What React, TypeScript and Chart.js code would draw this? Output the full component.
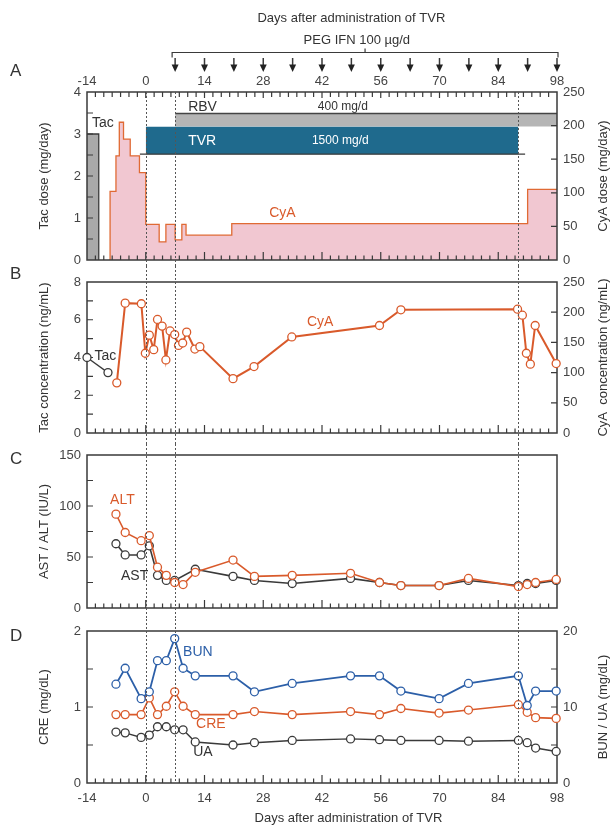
import React, { useEffect, useRef } from 'react';
import { Chart, registerables } from 'chart.js';
Chart.register(...registerables);

// ---------- data ----------
const dayTicks = [-14, 0, 14, 28, 42, 56, 70, 84, 98];
const pegIfnDays = [7, 14, 21, 28, 35, 42, 49, 56, 63, 70, 77, 84, 91, 98];
const phaseLineDays = [0, 7, 88.8];

// Panel A: doses
const tacDoseDays = [-14, -11.2];
const tacDoseValues = [3, 0];
const cyaDoseDays = [-8.5, -8.5, -7.1, -6.3, -5.3, -3.7, -1.5, 0, 3.2, 4.8, 7, 8.6, 9.6, 20.5, 91, 98];
const cyaDoseValues = [0, 102, 155, 205, 180, 155, 130, 53, 27, 53, 30, 53, 37, 54, 105, 105];
const rbvPeriod = [7, 98];
const tvrPeriod = [0, 88.8];

// Panel B: concentrations
const tacConcDays = [-14, -9];
const tacConcValues = [4.0, 3.2];
const cyaConcDays = [-6.9, -4.9, -1.05, -0.1, 0.85, 1.9, 2.8, 3.9, 4.8, 5.8, 6.9, 7.8, 8.8, 9.75, 11.7, 12.9, 20.8, 25.8, 34.8, 55.7, 60.8, 88.6, 89.75, 90.7, 91.65, 92.8, 97.8];
const cyaConcValues = [83, 215, 214, 132, 162, 138, 188, 177, 121, 169, 163, 145, 149, 167, 139, 143, 90, 110, 159, 178, 204, 205, 195, 132, 114, 178, 115];

// Panels C, D: laboratory values
const labDays = [-7.1, -4.9, -1.1, 0.85, 2.8, 4.9, 6.9, 8.9, 11.8, 20.8, 25.9, 34.9, 48.8, 55.7, 60.8, 69.9, 76.9, 88.8, 90.9, 92.9, 97.8];
const astValues = [63, 52, 52, 61, 32, 27, 27, null, 38, 31, 27, 24, 29, 25, 22, 22, 27, 22, 24, 24, 27];
const altValues = [92, 74, 66, 71, 40, 32, 25, 23, 35, 47, 31, 32, 34, 25, 22, 22, 29, 21, 23, 25, 28];
const bunValues = [13.0, 15.1, 11.1, 12.0, 16.1, 16.1, 19.0, 15.1, 14.1, 14.1, 12.0, 13.1, 14.1, 14.1, 12.1, 11.1, 13.1, 14.1, 10.2, 12.1, 12.1];
const creValues = [0.9, 0.9, 0.9, 1.12, 0.9, 1.01, 1.2, 1.01, 0.9, 0.9, 0.94, 0.9, 0.94, 0.9, 0.98, 0.92, 0.96, 1.03, 0.93, 0.86, 0.85];
const uaValues = [6.7, 6.6, 6.0, 6.3, 7.4, 7.4, 7.0, 7.0, 5.4, 5.0, 5.3, 5.6, 5.8, 5.7, 5.6, 5.6, 5.5, 5.6, 5.3, 4.6, 4.15];

// ---------- styles ----------
const FONT = "'Liberation Sans', Arial, Helvetica, sans-serif";
const ORANGE = '#d95a2b';
const BLUE = '#2c5fa8';
const DARK = '#3a3a3a';
const TEXT = '#333';
const W = 613;
const LEFT_W = 87;
const RIGHT_W = 56;

const pts = (xs: number[], ys: (number | null)[]) => xs.map((x, i) => ({ x, y: ys[i] }));

function fixedAxis(size: number) {
  return (s: any) => {
    if (s.isHorizontal()) s.height = size; else s.width = size;
    s.paddingTop = 0; s.paddingBottom = 0; s.paddingLeft = 0; s.paddingRight = 0;
  };
}

function xAxis(position: string, display: boolean, height: number, pad: number) {
  return {
    type: 'linear', min: -14, max: 98, position, display,
    grid: { display: false, drawTicks: false }, border: { display: false },
    afterBuildTicks: (s: any) => { s.ticks = dayTicks.map((v) => ({ value: v })); },
    ticks: { font: { family: FONT, size: 13 }, color: '#444', padding: pad, maxRotation: 0, autoSkip: false },
    afterFit: fixedAxis(height),
  };
}

function yAxis(position: string, min: number, max: number, step: number) {
  return {
    type: 'linear', position, min, max,
    grid: { display: false, drawTicks: false }, border: { display: false },
    ticks: { stepSize: step, font: { family: FONT, size: 13 }, color: '#444', padding: 6 },
    afterFit: fixedAxis(position === 'left' ? LEFT_W : RIGHT_W),
  };
}

function lineSet(data: any[], color: string, axis: string, width = 1.6) {
  return {
    type: 'line', data, yAxisID: axis, borderColor: color, borderWidth: width,
    pointRadius: 4, pointBackgroundColor: '#fff', pointBorderColor: color, pointBorderWidth: 1.3,
    tension: 0, fill: false, spanGaps: true, clip: false,
  };
}

type Label = { text: string; day: number; value: number; axis: string; color: string; size?: number };
type Deco = {
  letter: string; letterY: number;
  leftTitle: string; rightTitle?: string;
  leftTickStep: number; rightTickStep?: number;
  topTicks?: boolean;
  lineFromCanvas: boolean; lineToCanvas: boolean;
  labels: Label[];
  frameFirst?: boolean;
  extra?: (chart: any, ctx: CanvasRenderingContext2D) => void;
};

function decoPlugin(d: Deco) {
  const drawFrame = (chart: any) => {
    const ctx: CanvasRenderingContext2D = chart.ctx;
    const { left, right, top, bottom } = chart.chartArea;
    const xs = chart.scales.x;
    ctx.save();
    ctx.strokeStyle = DARK;
    ctx.lineWidth = 1.5;
    ctx.strokeRect(left, top, right - left, bottom - top);
    ctx.lineWidth = 1.2;
    ctx.beginPath();
    for (let v = -12; v < 98; v += 2) {
      const px = xs.getPixelForValue(v);
      const major = ((v % 14) + 14) % 14 === 0;
      ctx.moveTo(px, bottom); ctx.lineTo(px, bottom - (major ? 8 : 4.5));
      if (d.topTicks) { ctx.moveTo(px, top); ctx.lineTo(px, top + (major ? 6 : 5)); }
    }
    const ys = chart.scales.y;
    for (let v = ys.min + d.leftTickStep; v < ys.max - 1e-9; v += d.leftTickStep) {
      const py = ys.getPixelForValue(v);
      ctx.moveTo(left, py); ctx.lineTo(left + 6, py);
    }
    if (d.rightTickStep && chart.scales.y1) {
      const y1 = chart.scales.y1;
      for (let v = y1.min + d.rightTickStep; v < y1.max - 1e-9; v += d.rightTickStep) {
        const py = y1.getPixelForValue(v);
        ctx.moveTo(right, py); ctx.lineTo(right - 6, py);
      }
    }
    ctx.stroke();
    ctx.restore();
  };
  const drawRest = (chart: any) => {
    const ctx: CanvasRenderingContext2D = chart.ctx;
    const { top, bottom } = chart.chartArea;
    const xs = chart.scales.x;
    ctx.save();
    // dashed phase lines
    ctx.strokeStyle = '#555';
    ctx.lineWidth = 1;
    ctx.setLineDash([2, 2]);
    ctx.beginPath();
    for (const day of phaseLineDays) {
      const px = Math.round(xs.getPixelForValue(day)) + 0.5;
      ctx.moveTo(px, d.lineFromCanvas ? 0 : top);
      ctx.lineTo(px, d.lineToCanvas ? chart.height : bottom);
    }
    ctx.stroke();
    ctx.setLineDash([]);
    // labels
    ctx.textAlign = 'left';
    ctx.textBaseline = 'middle';
    for (const l of d.labels) {
      ctx.font = `${l.size || 13}px ${FONT}`;
      ctx.fillStyle = l.color;
      ctx.fillText(l.text, xs.getPixelForValue(l.day), chart.scales[l.axis].getPixelForValue(l.value));
    }
    // panel letter
    ctx.fillStyle = TEXT;
    ctx.font = `17px ${FONT}`;
    ctx.fillText(d.letter, 10, d.letterY);
    // axis titles
    ctx.font = `13px ${FONT}`;
    ctx.textAlign = 'center';
    const mid = (top + bottom) / 2;
    ctx.save(); ctx.translate(44, mid); ctx.rotate(-Math.PI / 2); ctx.fillText(d.leftTitle, 0, 0); ctx.restore();
    if (d.rightTitle) {
      ctx.save(); ctx.translate(603, mid); ctx.rotate(-Math.PI / 2); ctx.fillText(d.rightTitle, 0, 0); ctx.restore();
    }
    if (d.extra) d.extra(chart, ctx);
    ctx.restore();
  };
  return {
    id: 'deco' + d.letter,
    beforeDatasetsDraw(chart: any) { if (d.frameFirst) drawFrame(chart); },
    afterDatasetsDraw(chart: any) { if (!d.frameFirst) drawFrame(chart); drawRest(chart); },
  };
}

const baseOptions = (padding: any, scales: any) => ({
  responsive: false, animation: false, events: [],
  layout: { padding },
  plugins: { legend: { display: false }, tooltip: { enabled: false } },
  scales,
});

function configA(): any {
  const headerExtra = (chart: any, ctx: CanvasRenderingContext2D) => {
    const xs = chart.scales.x;
    ctx.fillStyle = TEXT;
    ctx.font = `13px ${FONT}`;
    ctx.textAlign = 'center';
    ctx.textBaseline = 'middle';
    ctx.fillText('Days after administration of TVR', xs.getPixelForValue(49), 18);
    ctx.fillText('PEG IFN 100 µg/d', xs.getPixelForValue(50.3), 40);
    const bx0 = xs.getPixelForValue(pegIfnDays[0]) - 3;
    const bx1 = xs.getPixelForValue(pegIfnDays[pegIfnDays.length - 1]) + 1;
    const by = 52.5;
    const mid = (bx0 + bx1) / 2;
    ctx.strokeStyle = DARK;
    ctx.lineWidth = 1.2;
    ctx.beginPath();
    ctx.moveTo(bx0, by + 5); ctx.lineTo(bx0, by); ctx.lineTo(bx1, by); ctx.lineTo(bx1, by + 5);
    ctx.moveTo(mid, by); ctx.lineTo(mid, by - 4);
    ctx.stroke();
    ctx.fillStyle = '#222';
    for (const day of pegIfnDays) {
      const px = xs.getPixelForValue(day);
      ctx.lineWidth = 1.5;
      ctx.beginPath(); ctx.moveTo(px, 58); ctx.lineTo(px, 66); ctx.stroke();
      ctx.beginPath(); ctx.moveTo(px - 3.5, 64.5); ctx.lineTo(px + 3.5, 64.5); ctx.lineTo(px, 72); ctx.closePath(); ctx.fill();
    }
  };
  const deco = decoPlugin({
    letter: 'A', letterY: 71,
    leftTitle: 'Tac dose (mg/day)', rightTitle: 'CyA dose (mg/day)',
    leftTickStep: 0.5, rightTickStep: 50, topTicks: true,
    lineFromCanvas: false, lineToCanvas: true,
    labels: [
      { text: 'Tac', day: -12.8, value: 3.26, axis: 'y', color: TEXT, size: 14 },
      { text: 'RBV', day: 10.1, value: 3.64, axis: 'y', color: TEXT, size: 14 },
      { text: '400 mg/d', day: 41, value: 3.64, axis: 'y', color: TEXT, size: 12 },
      { text: 'TVR', day: 10.1, value: 2.83, axis: 'y', color: '#fff', size: 14 },
      { text: '1500 mg/d', day: 39.6, value: 2.83, axis: 'y', color: '#fff', size: 12 },
      { text: 'CyA', day: 29.4, value: 1.12, axis: 'y', color: ORANGE, size: 14 },
    ],
    extra: headerExtra,
  });
  return {
    type: 'line',
    data: {
      datasets: [
        { data: [{ x: tvrPeriod[0] - 1.4, y: 2.52 }, { x: tvrPeriod[1] + 1.6, y: 2.52 }], yAxisID: 'y', borderColor: DARK, borderWidth: 1.3, pointRadius: 0, fill: false },
        { data: [{ x: tvrPeriod[0], y: 3.17 }, { x: tvrPeriod[1], y: 3.17 }], yAxisID: 'y', borderColor: '#1f6a8d', borderWidth: 0, backgroundColor: '#1f6a8d', pointRadius: 0, fill: { value: 2.52 } },
        { data: [{ x: rbvPeriod[0], y: 3.49 }, { x: rbvPeriod[1], y: 3.49 }], yAxisID: 'y', borderColor: '#444', borderWidth: 1.5, backgroundColor: '#b5b5b5', pointRadius: 0, fill: { value: 3.18 } },
        { data: pts(tacDoseDays, tacDoseValues), yAxisID: 'y', stepped: true, fill: 'origin', backgroundColor: '#a9a9a9', borderColor: DARK, borderWidth: 1.3, pointRadius: 0 },
        { data: pts(cyaDoseDays, cyaDoseValues), yAxisID: 'y1', stepped: true, fill: 'origin', backgroundColor: '#f1c7d1', borderColor: '#e06a34', borderWidth: 1.3, pointRadius: 0 },
      ],
    },
    options: baseOptions({ left: 0, right: 0, top: 76, bottom: 6 }, {
      x: xAxis('top', true, 16, 3),
      y: yAxis('left', 0, 4, 1),
      y1: yAxis('right', 0, 250, 50),
    }),
    plugins: [deco],
  };
}

function configB(): any {
  const deco = decoPlugin({
    letter: 'B', letterY: 8,
    leftTitle: 'Tac concentration (ng/mL)', rightTitle: 'CyA  concentration (ng/mL)',
    leftTickStep: 1, rightTickStep: 50,
    lineFromCanvas: true, lineToCanvas: true, frameFirst: true,
    labels: [
      { text: 'Tac', day: -12.2, value: 4.07, axis: 'y', color: TEXT, size: 14 },
      { text: 'CyA', day: 38.4, value: 184, axis: 'y1', color: ORANGE, size: 14 },
    ],
  });
  return {
    type: 'line',
    data: {
      datasets: [
        lineSet(pts(cyaConcDays, cyaConcValues), ORANGE, 'y1', 2),
        lineSet(pts(tacConcDays, tacConcValues), DARK, 'y', 1.3),
      ],
    },
    options: baseOptions({ left: 0, right: 0, top: 16, bottom: 11 }, {
      x: xAxis('bottom', false, 0, 0),
      y: yAxis('left', 0, 8, 2),
      y1: yAxis('right', 0, 250, 50),
    }),
    plugins: [deco],
  };
}

function configC(): any {
  const deco = decoPlugin({
    letter: 'C', letterY: 15,
    leftTitle: 'AST / ALT (IU/L)',
    leftTickStep: 25,
    lineFromCanvas: true, lineToCanvas: true, frameFirst: true,
    labels: [
      { text: 'ALT', day: -8.5, value: 106, axis: 'y', color: ORANGE, size: 14 },
      { text: 'AST', day: -5.9, value: 31.6, axis: 'y', color: TEXT, size: 14 },
    ],
  });
  return {
    type: 'line',
    data: {
      datasets: [
        lineSet(pts(labDays, altValues), ORANGE, 'y', 1.6),
        lineSet(pts(labDays, astValues), DARK, 'y', 1.6),
      ],
    },
    options: baseOptions({ left: 0, right: RIGHT_W, top: 11, bottom: 11 }, {
      x: xAxis('bottom', false, 0, 0),
      y: yAxis('left', 0, 150, 50),
    }),
    plugins: [deco],
  };
}

function configD(): any {
  const deco = decoPlugin({
    letter: 'D', letterY: 17,
    leftTitle: 'CRE (mg/dL)', rightTitle: 'BUN / UA (mg/dL)',
    leftTickStep: 0.5, rightTickStep: 5,
    lineFromCanvas: true, lineToCanvas: false, frameFirst: true,
    labels: [
      { text: 'BUN', day: 8.9, value: 17.2, axis: 'y1', color: BLUE, size: 14 },
      { text: 'CRE', day: 12, value: 0.78, axis: 'y', color: ORANGE, size: 14 },
      { text: 'UA', day: 11.3, value: 4.0, axis: 'y1', color: TEXT, size: 14 },
    ],
    extra: (chart: any, ctx: CanvasRenderingContext2D) => {
      ctx.fillStyle = TEXT;
      ctx.font = `13px ${FONT}`;
      ctx.textAlign = 'center';
      ctx.textBaseline = 'middle';
      ctx.fillText('Days after administration of TVR', chart.scales.x.getPixelForValue(48.3), 199);
    },
  });
  return {
    type: 'line',
    data: {
      datasets: [
        lineSet(pts(labDays, bunValues), BLUE, 'y1', 1.8),
        lineSet(pts(labDays, creValues), ORANGE, 'y', 1.6),
        lineSet(pts(labDays, uaValues), DARK, 'y1', 1.4),
      ],
    },
    options: baseOptions({ left: 0, right: 0, top: 12, bottom: 0 }, {
      x: xAxis('bottom', true, 44, 8),
      y: yAxis('left', 0, 2, 1),
      y1: yAxis('right', 0, 20, 10),
    }),
    plugins: [deco],
  };
}

export default function App() {
  const refA = useRef<HTMLCanvasElement>(null);
  const refB = useRef<HTMLCanvasElement>(null);
  const refC = useRef<HTMLCanvasElement>(null);
  const refD = useRef<HTMLCanvasElement>(null);

  useEffect(() => {
    const charts = [
      new Chart(refA.current as HTMLCanvasElement, configA()),
      new Chart(refB.current as HTMLCanvasElement, configB()),
      new Chart(refC.current as HTMLCanvasElement, configC()),
      new Chart(refD.current as HTMLCanvasElement, configD()),
    ];
    return () => charts.forEach((c) => c.destroy());
  }, []);

  const cs = (top: number, h: number): React.CSSProperties => ({ position: 'absolute', left: 0, top, width: W, height: h, display: 'block' });
  return (
    <div style={{ position: 'absolute', left: 0, top: 0, width: W, height: 827, background: '#fff' }}>
      <canvas ref={refA} width={W} height={266} style={cs(0, 266)} />
      <canvas ref={refB} width={W} height={178} style={cs(266, 178)} />
      <canvas ref={refC} width={W} height={175} style={cs(444, 175)} />
      <canvas ref={refD} width={W} height={208} style={cs(619, 208)} />
    </div>
  );
}
